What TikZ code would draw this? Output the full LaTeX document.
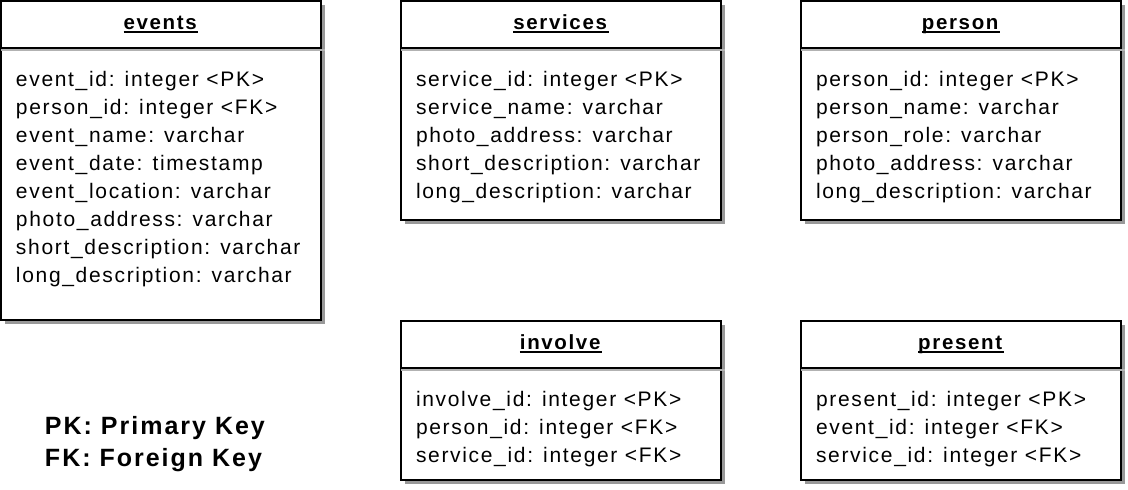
\documentclass[tikz,border=0pt]{standalone}
\usepackage{fontspec}
\setmainfont{Liberation Sans}[LetterSpace=8]
\usetikzlibrary{shadows}
\newsavebox\tbox
\newcommand\tname[1]{\sbox\tbox{\textbf{#1}}\rlap{\vrule width\wd\tbox height -1.8pt depth 3.4pt}\usebox\tbox}
\tikzset{
        tbl/.style={draw, line width=2pt, fill=white, minimum width=320pt,
                anchor=north west, inner sep=0pt, outer sep=0pt,
                drop shadow={shadow xshift=4pt, shadow yshift=-4pt, fill=black!40, opacity=1}},
        thead/.style={tbl, minimum height=47pt, text height=15pt, text depth=5pt,
                font=\fontsize{20.5}{24}\selectfont\bfseries},
        attrs/.style={anchor=north west, inner sep=0pt, outer sep=0pt, align=left,
                font=\fontsize{21}{28}\selectfont},
        sepline/.style={draw=black!30, line width=2pt},
}

\begin{document}
\begin{tikzpicture}[x=1pt, y=-1pt]
        \useasboundingbox (0,0) rectangle (1128,490);
        % events
        \node (h0) [thead] at (1,1) {\tname{events}};
        \node (b0) [tbl, minimum height=272pt] at (1,48) {};
        \draw[sepline] ([yshift=-2pt]b0.north west) -- ([xshift=4pt,yshift=-2pt]b0.north east);
        \node (a0) [attrs] at ([xshift=15pt,yshift=-22.8pt]b0.north west) {event\_id: integer <PK>\\
person\_id: integer <FK>\\
event\_name: varchar\\
event\_date: timestamp\\
event\_location: varchar\\
photo\_address: varchar\\
short\_description: varchar\\
long\_description: varchar};
        % services
        \node (h1) [thead] at (401,1) {\tname{services}};
        \node (b1) [tbl, minimum height=172pt] at (401,48) {};
        \draw[sepline] ([yshift=-2pt]b1.north west) -- ([xshift=4pt,yshift=-2pt]b1.north east);
        \node (a1) [attrs] at ([xshift=15pt,yshift=-22.8pt]b1.north west) {service\_id: integer <PK>\\
service\_name: varchar\\
photo\_address: varchar\\
short\_description: varchar\\
long\_description: varchar};
        % person
        \node (h2) [thead] at (801,1) {\tname{person}};
        \node (b2) [tbl, minimum height=172pt] at (801,48) {};
        \draw[sepline] ([yshift=-2pt]b2.north west) -- ([xshift=4pt,yshift=-2pt]b2.north east);
        \node (a2) [attrs] at ([xshift=15pt,yshift=-22.8pt]b2.north west) {person\_id: integer <PK>\\
person\_name: varchar\\
person\_role: varchar\\
photo\_address: varchar\\
long\_description: varchar};
        % involve
        \node (h3) [thead] at (401,321) {\tname{involve}};
        \node (b3) [tbl, minimum height=112pt] at (401,368) {};
        \draw[sepline] ([yshift=-2pt]b3.north west) -- ([xshift=4pt,yshift=-2pt]b3.north east);
        \node (a3) [attrs] at ([xshift=15pt,yshift=-22.8pt]b3.north west) {involve\_id: integer <PK>\\
person\_id: integer <FK>\\
service\_id: integer <FK>};
        % present
        \node (h4) [thead] at (801,321) {\tname{present}};
        \node (b4) [tbl, minimum height=112pt] at (801,368) {};
        \draw[sepline] ([yshift=-2pt]b4.north west) -- ([xshift=4pt,yshift=-2pt]b4.north east);
        \node (a4) [attrs] at ([xshift=15pt,yshift=-22.8pt]b4.north west) {present\_id: integer <PK>\\
event\_id: integer <FK>\\
service\_id: integer <FK>};
        % legend
        \node (key) [attrs, font=\fontsize{25}{32}\selectfont\bfseries] at (45,416.1) {PK: Primary Key\\
FK: Foreign Key};
\end{tikzpicture}
\end{document}
